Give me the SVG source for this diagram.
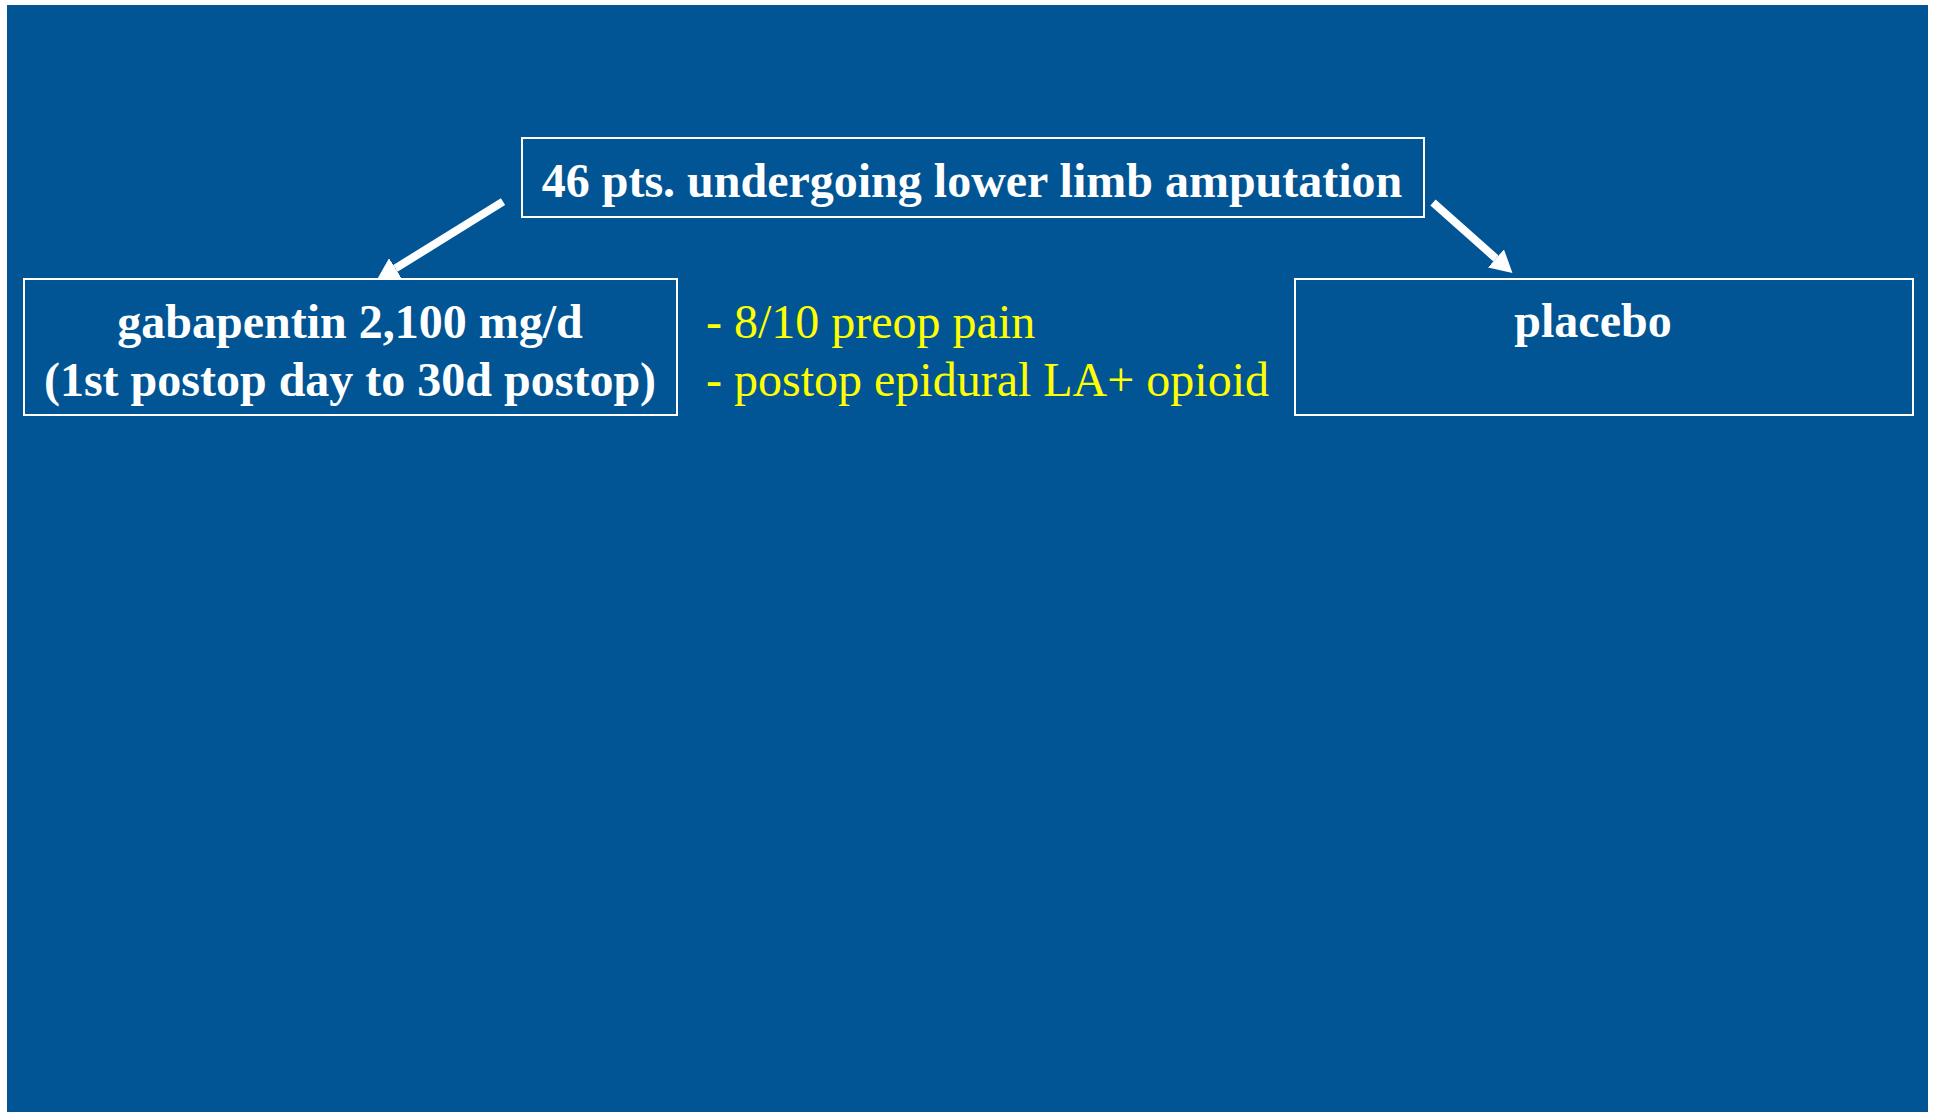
<svg xmlns="http://www.w3.org/2000/svg" width="1933" height="1112" viewBox="0 0 1933 1112">
  <defs>
    <style>
      .box { fill: none; stroke: #ffffff; stroke-width: 2; }
      .bt { font-family: "Liberation Serif", "Times New Roman", serif; font-weight: bold; font-size: 48px; fill: #ffffff; text-anchor: middle; }
      .yt { font-family: "Liberation Serif", "Times New Roman", serif; font-size: 48px; fill: #ffff00; }
      .arr { stroke: #ffffff; stroke-width: 8; fill: none; }
    </style>
    <marker id="head" viewBox="0 0 22 24" refX="0" refY="12" markerUnits="userSpaceOnUse" markerWidth="22" markerHeight="24" orient="auto">
      <path d="M0,0 L22,12 L0,24 z" fill="#ffffff"/>
    </marker>
  </defs>
  <rect x="0" y="0" width="1933" height="1112" fill="#ffffff"/>
  <rect x="7" y="5" width="1921" height="1107" fill="#015594"/>

  <g id="connectors">
    <line class="arr" x1="503" y1="201.7" x2="395.4" y2="268.4" marker-end="url(#head)"/>
    <line class="arr" x1="1433" y1="202.5" x2="1496" y2="258.4" marker-end="url(#head)"/>
  </g>

  <g id="node-top">
    <rect class="box" x="522" y="138" width="902" height="79"/>
    <text class="bt" x="972" y="197">46 pts. undergoing lower limb amputation</text>
  </g>

  <g id="node-gabapentin">
    <rect class="box" x="24" y="279" width="653" height="136"/>
    <text class="bt" x="350" y="338">gabapentin 2,100 mg/d</text>
    <text class="bt" x="350" y="395.6">(1st postop day to 30d postop)</text>
  </g>

  <g id="node-notes">
    <text class="yt" x="706" y="338">- 8/10 preop pain</text>
    <text class="yt" x="706" y="395.6">- postop epidural LA+ opioid</text>
  </g>

  <g id="node-placebo">
    <rect class="box" x="1295" y="279" width="618" height="136"/>
    <text class="bt" x="1593" y="337">placebo</text>
  </g>
</svg>
